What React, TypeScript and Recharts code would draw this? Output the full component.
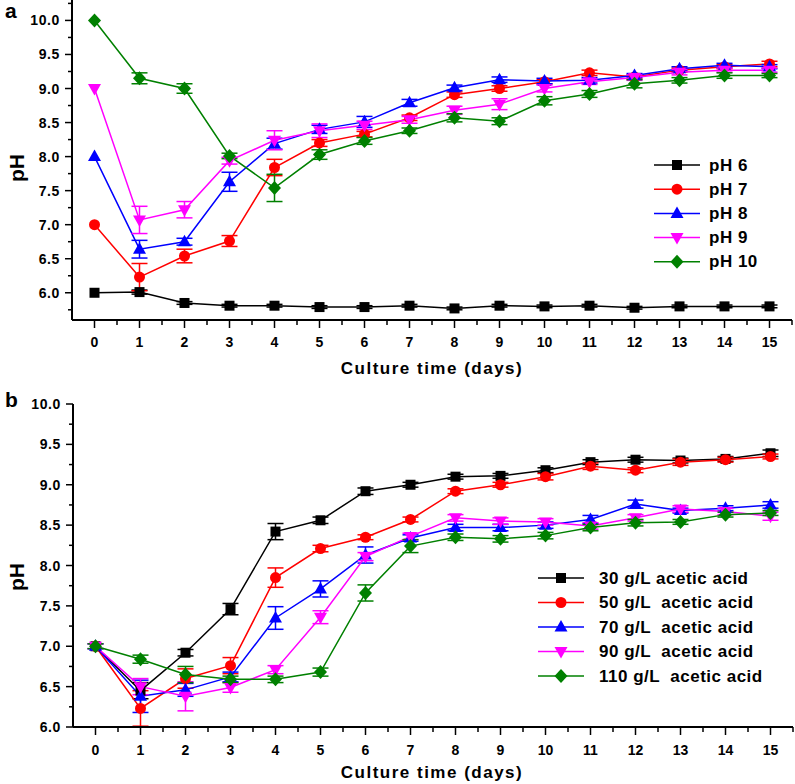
import React from 'react';
import { LineChart, Line, XAxis, YAxis, ErrorBar, Legend, Label } from 'recharts';

const days = [0, 1, 2, 3, 4, 5, 6, 7, 8, 9, 10, 11, 12, 13, 14, 15];
const xTicks = [0, 0.5, 1, 1.5, 2, 2.5, 3, 3.5, 4, 4.5, 5, 5.5, 6, 6.5, 7, 7.5, 8, 8.5, 9, 9.5, 10, 10.5, 11, 11.5, 12, 12.5, 13, 13.5, 14, 14.5, 15, 15.5];
const yTicksA = [5.75, 6, 6.25, 6.5, 6.75, 7, 7.25, 7.5, 7.75, 8, 8.25, 8.5, 8.75, 9, 9.25, 9.5, 9.75, 10, 10.25];
const yTicksB = [6, 6.25, 6.5, 6.75, 7, 7.25, 7.5, 7.75, 8, 8.25, 8.5, 8.75, 9, 9.25, 9.5, 9.75, 10];

// panel a: initial pH
const ph6 = [6.0, 6.01, 5.85, 5.81, 5.81, 5.79, 5.79, 5.81, 5.77, 5.81, 5.8, 5.81, 5.78, 5.8, 5.8, 5.8];
const ph7 = [7.0, 6.23, 6.54, 6.76, 7.84, 8.2, 8.33, 8.57, 8.91, 9.0, 9.1, 9.23, 9.17, 9.27, 9.32, 9.36];
const ph8 = [8.0, 6.64, 6.75, 7.63, 8.19, 8.4, 8.51, 8.79, 9.01, 9.13, 9.11, 9.12, 9.19, 9.29, 9.34, 9.32];
const ph9 = [9.0, 7.07, 7.22, 7.94, 8.24, 8.38, 8.46, 8.54, 8.68, 8.77, 9.0, 9.1, 9.16, 9.24, 9.27, 9.27];
const ph10 = [10.0, 9.15, 9.0, 8.01, 7.54, 8.03, 8.23, 8.38, 8.57, 8.52, 8.82, 8.92, 9.07, 9.12, 9.19, 9.19];

const ph6Err = [0, 0.03, 0.02, 0.02, 0.02, 0.02, 0.02, 0.02, 0.02, 0.02, 0.02, 0.02, 0.02, 0.02, 0.02, 0.02];
const ph7Err = [0, 0.2, 0.1, 0.08, 0.12, 0.05, 0.04, 0.04, 0.04, 0.04, 0.03, 0.04, 0.03, 0.03, 0.03, 0.04];
const ph8Err = [0, 0.13, 0.05, 0.14, 0.08, 0.06, 0.08, 0.05, 0.04, 0.04, 0.04, 0.04, 0.03, 0.03, 0.03, 0.03];
const ph9Err = [0, 0.2, 0.12, 0.05, 0.14, 0.1, 0.06, 0.05, 0.06, 0.08, 0.05, 0.04, 0.04, 0.04, 0.03, 0.03];
const ph10Err = [0, 0.08, 0.07, 0.04, 0.2, 0.07, 0.05, 0.04, 0.06, 0.05, 0.06, 0.05, 0.06, 0.04, 0.04, 0.03];

// panel b: acetic acid concentration
const g30 = [7.0, 6.45, 6.92, 7.46, 8.42, 8.56, 8.92, 9.0, 9.1, 9.11, 9.18, 9.28, 9.31, 9.3, 9.32, 9.39];
const g50 = [7.0, 6.23, 6.6, 6.76, 7.85, 8.21, 8.35, 8.57, 8.92, 9.0, 9.1, 9.23, 9.18, 9.28, 9.31, 9.35];
const g70 = [7.0, 6.38, 6.46, 6.62, 7.35, 7.71, 8.13, 8.34, 8.47, 8.47, 8.5, 8.57, 8.76, 8.68, 8.71, 8.75];
const g90 = [7.0, 6.5, 6.38, 6.49, 6.71, 7.36, 8.11, 8.36, 8.59, 8.55, 8.54, 8.49, 8.59, 8.7, 8.67, 8.61];
const g110 = [7.0, 6.84, 6.65, 6.59, 6.59, 6.68, 7.66, 8.24, 8.35, 8.33, 8.37, 8.47, 8.53, 8.54, 8.63, 8.65];

const g30Err = [0, 0.1, 0.04, 0.07, 0.1, 0.04, 0.04, 0.03, 0.03, 0.03, 0.03, 0.03, 0.03, 0.03, 0.03, 0.04];
const g50Err = [0, 0.22, 0.12, 0.1, 0.12, 0.04, 0.03, 0.03, 0.03, 0.03, 0.04, 0.04, 0.03, 0.04, 0.03, 0.03];
const g70Err = [0.03, 0.2, 0.08, 0.06, 0.14, 0.1, 0.1, 0.04, 0.04, 0.04, 0.04, 0.05, 0.05, 0.03, 0.03, 0.04];
const g90Err = [0.03, 0.1, 0.18, 0.06, 0.05, 0.08, 0.05, 0.04, 0.04, 0.04, 0.04, 0.04, 0.04, 0.04, 0.04, 0.05];
const g110Err = [0.03, 0.05, 0.1, 0.04, 0.04, 0.05, 0.1, 0.08, 0.04, 0.04, 0.04, 0.04, 0.04, 0.03, 0.03, 0.03];

const dataA = days.map((d, i) => ({
  day: d,
  ph6: ph6[i], ph6e: ph6Err[i],
  ph7: ph7[i], ph7e: ph7Err[i],
  ph8: ph8[i], ph8e: ph8Err[i],
  ph9: ph9[i], ph9e: ph9Err[i],
  ph10: ph10[i], ph10e: ph10Err[i],
}));

const dataB = days.map((d, i) => ({
  day: d,
  g30: g30[i], g30e: g30Err[i],
  g50: g50[i], g50e: g50Err[i],
  g70: g70[i], g70e: g70Err[i],
  g90: g90[i], g90e: g90Err[i],
  g110: g110[i], g110e: g110Err[i],
}));

const seriesA = [
  { key: 'ph6', name: 'pH 6', color: '#000000', shape: 'square' },
  { key: 'ph7', name: 'pH 7', color: '#ff0000', shape: 'circle' },
  { key: 'ph8', name: 'pH 8', color: '#0000ff', shape: 'triangle' },
  { key: 'ph9', name: 'pH 9', color: '#ff00ff', shape: 'triangleDown' },
  { key: 'ph10', name: 'pH 10', color: '#008000', shape: 'diamond' },
];

const seriesB = [
  { key: 'g30', name: '30 g/L acetic acid', color: '#000000', shape: 'square' },
  { key: 'g50', name: '50 g/L  acetic acid', color: '#ff0000', shape: 'circle' },
  { key: 'g70', name: '70 g/L  acetic acid', color: '#0000ff', shape: 'triangle' },
  { key: 'g90', name: '90 g/L  acetic acid', color: '#ff00ff', shape: 'triangleDown' },
  { key: 'g110', name: '110 g/L  acetic acid', color: '#008000', shape: 'diamond' },
];

const FONT = '"Liberation Sans", Arial, sans-serif';

function Marker({ shape, cx, cy, color }: any) {
  if (cx == null || cy == null) return null;
  switch (shape) {
    case 'square':
      return <rect x={cx - 5} y={cy - 5} width={10} height={10} fill={color} />;
    case 'circle':
      return <circle cx={cx} cy={cy} r={5.5} fill={color} />;
    case 'triangle':
      return <polygon points={`${cx},${cy - 7} ${cx + 6.5},${cy + 4.5} ${cx - 6.5},${cy + 4.5}`} fill={color} />;
    case 'triangleDown':
      return <polygon points={`${cx - 6.5},${cy - 4.5} ${cx + 6.5},${cy - 4.5} ${cx},${cy + 7}`} fill={color} />;
    default:
      return <polygon points={`${cx},${cy - 7} ${cx + 6.5},${cy} ${cx},${cy + 7} ${cx - 6.5},${cy}`} fill={color} />;
  }
}

function XTick({ x, y, payload, labelGap }: any) {
  const v = payload.value;
  const major = Number.isInteger(v);
  return (
    <g>
      <line x1={x} x2={x} y1={y} y2={y + (major ? 8 : 5)} stroke="#000" strokeWidth={1.5} />
      {major && (
        <text x={x} y={y + labelGap} textAnchor="middle" dominantBaseline="central" fontSize={14} fontWeight="bold" fontFamily={FONT} fill="#000">
          {v}
        </text>
      )}
    </g>
  );
}

function YTick({ x, y, payload }: any) {
  const v = payload.value;
  const major = Math.abs(v * 2 - Math.round(v * 2)) < 1e-6;
  return (
    <g>
      <line x1={x} x2={x - (major ? 7 : 4)} y1={y} y2={y} stroke="#000" strokeWidth={1.5} />
      {major && (
        <text x={x - 12} y={y} textAnchor="end" dominantBaseline="central" fontSize={14} fontWeight="bold" fontFamily={FONT} letterSpacing={0.6} fill="#000">
          {v.toFixed(1)}
        </text>
      )}
    </g>
  );
}

function LegendBox({ series, lineW, textX, rowH }: any) {
  return (
    <svg width={220} height={rowH * series.length + 10} style={{ overflow: 'visible' }}>
      {series.map((s: any, i: number) => {
        const cy = 10 + i * rowH;
        return (
          <g key={s.key}>
            <line x1={0} x2={lineW} y1={cy} y2={cy} stroke={s.color} strokeWidth={1.5} />
            <Marker shape={s.shape} cx={lineW / 2} cy={cy} color={s.color} />
            <text x={textX} y={cy} dominantBaseline="central" fontSize={17} fontWeight="bold" fontFamily={FONT} letterSpacing={0.5} fill="#000" style={{ whiteSpace: 'pre' }}>
              {s.name}
            </text>
          </g>
        );
      })}
    </svg>
  );
}

function Panel({ data, series, domain, yTicks, width, height, top, yAxisW, rightM, xHeight, labelGap, titleY, phY, legendPos, legendText, rowH, letter }: any) {
  return (
    <div style={{ position: 'absolute', left: 0, top }}>
      <LineChart width={width} height={height} data={data} margin={{ top: domain[1] > 10 ? 0 : 14, right: rightM, bottom: 0, left: 0 }}>
        <XAxis
          dataKey="day"
          type="number"
          domain={[-0.5, 15.5]}
          ticks={xTicks}
          interval={0}
          height={xHeight}
          tickSize={0}
          tickMargin={0}
          tickLine={false}
          axisLine={{ stroke: '#000', strokeWidth: 2 }}
          tick={(p: any) => <XTick {...p} labelGap={labelGap} />}
        >
          <Label
            content={() => (
              <text x={432} y={titleY} textAnchor="middle" dominantBaseline="central" fontSize={17} fontWeight="bold" fontFamily={FONT} letterSpacing={1.5} fill="#000">
                Culture time (days)
              </text>
            )}
          />
        </XAxis>
        <YAxis
          type="number"
          domain={domain}
          ticks={yTicks}
          interval={0}
          width={yAxisW}
          allowDataOverflow
          tickSize={0}
          tickMargin={0}
          tickLine={false}
          axisLine={{ stroke: '#000', strokeWidth: 2 }}
          tick={(p: any) => <YTick {...p} />}
        >
          <Label
            content={() => (
              <text x={16} y={phY} textAnchor="middle" dominantBaseline="central" fontSize={21} fontWeight="bold" fontFamily={FONT} fill="#000" transform={`rotate(-90, 16, ${phY})`}>
                pH
              </text>
            )}
          />
        </YAxis>
        <Legend
          layout="vertical"
          align="center"
          verticalAlign="middle"
          wrapperStyle={{ position: 'absolute', left: legendPos[0], top: legendPos[1], width: 220 }}
          content={() => <LegendBox series={series} lineW={46} textX={legendText} rowH={rowH} />}
        />
        {series.map((s: any) => (
          <Line
            key={s.key}
            dataKey={s.key}
            name={s.name}
            stroke={s.color}
            strokeWidth={1.5}
            isAnimationActive={false}
            activeDot={false}
            dot={(p: any) => <Marker key={`${s.key}-${p.index}`} shape={s.shape} cx={p.cx} cy={p.cy} color={s.color} />}
          >
            <ErrorBar dataKey={`${s.key}e`} width={8} stroke={s.color} strokeWidth={1.5} direction="y" isAnimationActive={false} />
          </Line>
        ))}
      </LineChart>
      <div style={{ position: 'absolute', left: 5, top: letter[1], fontFamily: FONT, fontWeight: 'bold', fontSize: 21, lineHeight: '21px' }}>{letter[0]}</div>
    </div>
  );
}

export default function App() {
  return (
    <div style={{ position: 'absolute', left: 0, top: 0, width: 795, height: 784, overflow: 'hidden', background: '#fff', fontFamily: FONT }}>
      <Panel
        data={dataA}
        series={seriesA}
        domain={[5.6, 10.3]}
        yTicks={yTicksA}
        width={795}
        height={390}
        top={0}
        yAxisW={72}
        rightM={3}
        xHeight={70}
        labelGap={22}
        titleY={368}
        phY={168}
        legendPos={[654, 155]}
        legendText={55}
        rowH={24.2}
        letter={['a', 0]}
      />
      <Panel
        data={dataB}
        series={seriesB}
        domain={[6, 10]}
        yTicks={yTicksB}
        width={795}
        height={393}
        top={390}
        yAxisW={73}
        rightM={2}
        xHeight={56}
        labelGap={23}
        titleY={382}
        phY={187}
        legendPos={[538, 178]}
        legendText={61}
        rowH={24.5}
        letter={['b', -1]}
      />
    </div>
  );
}
